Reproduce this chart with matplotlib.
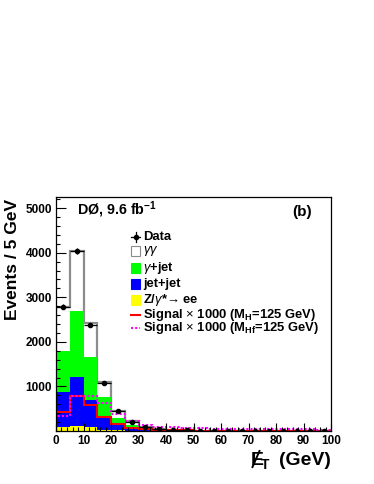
import matplotlib
matplotlib.use("Agg")
import matplotlib.pyplot as plt
import numpy as np
from matplotlib.patches import Rectangle
from matplotlib.lines import Line2D
from matplotlib.ticker import MultipleLocator

plt.rcParams['font.family'] = ['Liberation Sans', 'DejaVu Sans']
plt.rcParams['mathtext.fontset'] = 'custom'
plt.rcParams['mathtext.rm'] = 'Liberation Sans'
plt.rcParams['mathtext.bf'] = 'Liberation Sans:bold'
plt.rcParams['mathtext.it'] = 'Liberation Sans:italic'

# MET bins, 5 GeV wide
edges = np.arange(0, 105, 5)

# background components (events / 5 GeV)
zee = [95, 120, 80, 30, 15, 8, 4, 2, 1, 1, 1, 0, 0, 0, 0, 0, 0, 0, 0, 0]
jetjet = [775, 1085, 620, 255, 115, 47, 21, 10, 5, 3, 2, 2, 2, 1, 1, 1, 1, 0, 0, 0]
gamjet = [925, 1495, 970, 470, 170, 75, 30, 13, 6, 4, 2, 2, 1, 1, 1, 0, 0, 1, 1, 1]
gamgam = [995, 1330, 760, 335, 140, 85, 45, 20, 13, 7, 5, 4, 3, 3, 2, 2, 2, 1, 1, 0]

data = [2790, 4045, 2375, 1070, 455, 195, 85, 40, 20, 12, 8, 6, 5, 4, 3, 3, 2, 2, 1, 1]

sig_h = [430, 780, 585, 310, 150, 70, 35, 20, 15, 12, 10, 8, 7, 6, 5, 5, 4, 4, 3, 3]
sig_hf = [340, 785, 785, 620, 380, 220, 140, 100, 80, 70, 60, 55, 50, 45, 42, 40, 38, 36, 34, 32]

W, H = 374, 484
fig = plt.figure(figsize=(W / 100, H / 100), dpi=100)
ax = fig.add_axes([56 / W, 1 - 431 / H, 275 / W, 234 / H])

yel = np.array(zee)
blu = yel + np.array(jetjet)
grn = blu + np.array(gamjet)
tot = grn + np.array(gamgam)

ax.stairs(tot, edges, fill=True, color='white')
ax.stairs(tot, edges, color='#8c8c8c', lw=1.6)
ax.stairs(grn, edges, fill=True, color='#00ff00')
ax.stairs(blu, edges, fill=True, color='#0000ff')
ax.stairs(yel, edges, fill=True, color='#ffff00')
ax.stairs(sig_h, edges, color='red', lw=1.5)
ax.stairs(sig_hf, edges, color='#ff00ff', lw=1.5, linestyle=(0, (1, 1)))

centers = 0.5 * (edges[:-1] + edges[1:])
ax.errorbar(centers, data, xerr=2.5, yerr=np.sqrt(data), fmt='o', color='black',
            ms=3, lw=0.9, capsize=0, zorder=5)

ax.set_xlim(0, 100)
ax.set_ylim(0, 5250)
ax.set_xticks(np.arange(0, 101, 10))
ax.xaxis.set_minor_locator(MultipleLocator(2))
ax.set_yticks([1000, 2000, 3000, 4000, 5000])
ax.yaxis.set_minor_locator(MultipleLocator(200))
ax.tick_params(which='both', direction='in', labelsize=8.5, width=0.8)
ax.tick_params(which='major', length=6, pad=3)
ax.tick_params(which='minor', length=3)
ax.tick_params(axis='y', which='major', length=7)
for lab in ax.get_xticklabels() + ax.get_yticklabels():
    lab.set_fontweight('bold')
for sp in ax.spines.values():
    sp.set_linewidth(0.9)

def pos(x, y):
    return ((x - 56) / 275, (431 - y) / 234)

# y label
fig.text(13 / W, 1 - 199 / H, 'Events / 5 GeV', rotation=90, ha='center', va='top',
         fontsize=12.5, fontweight='bold')

# x label with slashed E
xb = 1 - 465 / H
fig.text(331 / W, xb, '(GeV)', ha='right', va='baseline', fontsize=14, fontweight='bold')
fig.text(251 / W, xb, 'E', ha='left', va='baseline', fontsize=14, fontweight='bold')
fig.text(261 / W, xb - 4 / H, 'T', ha='left', va='baseline', fontsize=10, fontweight='bold')
fig.add_artist(Line2D([252.5 / W, 259.5 / W], [1 - 467 / H, 1 - 451 / H], color='black', lw=1.4))

ax.text(*pos(77, 215), r'DØ, 9.6 fb$^{\mathbf{-1}}$', transform=ax.transAxes,
        ha='left', va='baseline', fontsize=10.3, fontweight='bold')
ax.text(*pos(292, 216), '(b)', transform=ax.transAxes, ha='left', va='baseline',
        fontsize=11, fontweight='bold')

# legend
rows = [237, 251.5, 268, 284.5, 300.5, 315, 328]
labels = ['Data', r'$\gamma\gamma$', r'$\gamma$+jet', 'jet+jet', r'Z/$\gamma$*→ ee',
          r'Signal $\times$ 1000 (M$_{\mathbf{H}}$=125 GeV)',
          r'Signal $\times$ 1000 (M$_{\mathbf{Hf}}$=125 GeV)']
fills = [None, 'white', '#00ff00', '#0000ff', '#ffff00', None, None]
for i, (yy, lab) in enumerate(zip(rows, labels)):
    ax.text(*pos(143, yy), lab, transform=ax.transAxes, ha='left', va='center',
            fontsize=9.4, fontweight='bold')
    if fills[i] is not None:
        x0, y0 = pos(131, yy + 5)
        ec = '#8c8c8c' if fills[i] == 'white' else fills[i]
        ax.add_patch(Rectangle((x0, y0), 9 / 275, 10 / 234, transform=ax.transAxes,
                               facecolor=fills[i], edgecolor=ec, lw=0.8, clip_on=False))
for yy, c, ls in [(rows[5], 'red', '-'), (rows[6], '#ff00ff', (0, (1, 1)))]:
    xa, ya = pos(131, yy)
    xb2, _ = pos(140, yy)
    ax.add_line(Line2D([xa, xb2], [ya, ya], transform=ax.transAxes, color=c, lw=1.5,
                       linestyle=ls, clip_on=False))
xa, ya = pos(131, rows[0])
xb2, yb = pos(140, rows[0])
xc = 0.5 * (xa + xb2)
ax.add_line(Line2D([xa, xb2], [ya, ya], transform=ax.transAxes, color='black', lw=0.9, clip_on=False))
ax.add_line(Line2D([xc, xc], [ya - 5 / 234, ya + 5 / 234], transform=ax.transAxes, color='black',
                   lw=0.9, clip_on=False))
ax.plot([xc], [ya], 'o', color='black', ms=3, transform=ax.transAxes, clip_on=False)

fig.savefig('out.png', dpi=100)
